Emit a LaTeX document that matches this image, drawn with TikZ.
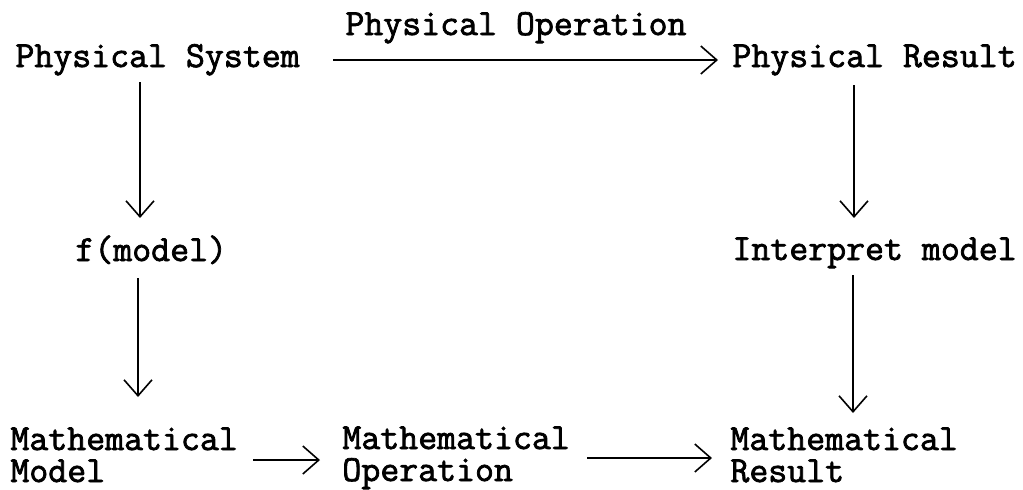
\documentclass[tikz,border=0pt]{standalone}
\usepackage{fontspec}
\newfontfamily\twfont[FakeBold=2]{Latin Modern Mono}
\usetikzlibrary{arrows.meta,calc}
\tikzset{
  px/.style={x=0.5pt, y=-0.5pt},
  t node/.style={font=\twfont\fontsize{18.4}{16}\selectfont, inner sep=0pt, anchor=base west, align=left},
  t arr/.style={-{Straight Barb[length=8pt, width=14pt]}, line width=0.8pt},
}
\begin{document}
\begin{tikzpicture}[px]
\useasboundingbox (0,0) rectangle (1023,489);
\node[t node] (psys) at (15,67) {Physical System};
\node[t node] (pop) at (345,35) {Physical Operation};
\node[t node] (pres) at (732,67) {Physical Result};
\node[t node] (fmod) at (75,261) {f(model)};
\node[t node] (intm) at (732,260) {Interpret model};
\node[t node] (mmod) at (10,482) {Mathematical\\Model};
\node[t node] (mop) at (342,481) {Mathematical\\Operation};
\node[t node] (mres) at (730,482) {Mathematical\\Result};
\draw[t arr] ($(psys.base west)+(318,-7)$) -- ($(pres.base west)+(-14,-7)$);
\draw[t arr] ($(psys.base west)+(125,15)$) -- ($(fmod.base west)+(65,-43)$);
\draw[t arr] ($(fmod.base west)+(63,17)$) -- ($(mmod.base west)+(128,-85)$);
\draw[t arr] ($(pres.base west)+(122,18)$) -- ($(intm.base west)+(122,-42)$);
\draw[t arr] ($(intm.base west)+(121,15)$) -- ($(mres.base west)+(123,-69)$);
\draw[t arr] ($(mmod.base west)+(243,-22)$) -- ($(mop.base west)+(-22,-21)$);
\draw[t arr] ($(mop.base west)+(245,-23)$) -- ($(mres.base west)+(-18,-24)$);
\end{tikzpicture}
\end{document}
